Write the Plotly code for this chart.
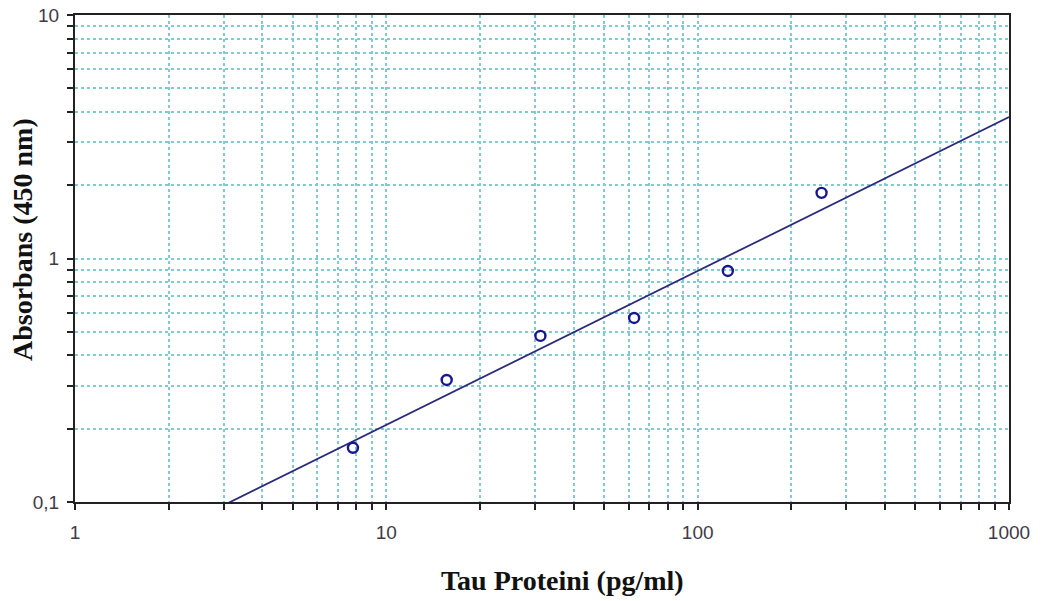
import plotly.graph_objects as go
import numpy as np

# Data
conc = [7.8125, 15.625, 31.25, 62.5, 125, 250]          # Tau Proteini (pg/ml)
absorb = [0.167, 0.317, 0.481, 0.570, 0.889, 1.86]     # Absorbans (450 nm)

# Power fit line y = a * x^b
fit_a = 0.0484
fit_b = 0.632
fit_x = [1, 1000]

x_ticks = [m * 10 ** e for e in range(0, 3) for m in range(1, 10)] + [1000]
x_labels = [str(v) if v in (1, 10, 100, 1000) else "" for v in x_ticks]
y_ticks = [round(m * 10 ** e, 3) for e in range(-1, 1) for m in range(1, 10)] + [10]
y_labels = [{0.1: "0,1", 1: "1", 10: "10"}.get(v, "") for v in y_ticks]

x_title = "<b>Tau Proteini (pg/ml)</b>"
y_title = "<b>Absorbans (450 nm)</b>"

fx = np.logspace(np.log10(fit_x[0]), np.log10(fit_x[1]), 50)
fy = fit_a * fx ** fit_b

fig = go.Figure()
fig.add_trace(go.Scatter(x=fx, y=fy, mode="lines",
                         line=dict(color="#2b2b7c", width=1.8),
                         showlegend=False, hoverinfo="skip"))
fig.add_trace(go.Scatter(x=conc, y=absorb, mode="markers",
                         marker=dict(symbol="circle-open", size=10, color="#17178f",
                                     line=dict(width=2.4, color="#17178f")),
                         showlegend=False))

axis_common = dict(
    type="log", showgrid=True, gridcolor="#80cad3", griddash="dot", gridwidth=1.5,
    showline=True, linecolor="#222222", linewidth=2, mirror=True,
    ticks="outside", ticklen=6, tickwidth=2, tickcolor="#222222",
    zeroline=False, automargin=False,
    tickfont=dict(family="Liberation Sans, Arial, sans-serif", size=19, color="#403a46"),
)

fig.update_xaxes(
    **axis_common, range=[0, 3], tickmode="array", tickvals=x_ticks, ticktext=x_labels,
    ticklabelstandoff=6,
)
fig.update_yaxes(
    **axis_common, range=[-1, 1], tickmode="array", tickvals=y_ticks, ticktext=y_labels,
    ticklabelstandoff=4,
)

title_font = dict(family="Liberation Serif, Times New Roman, serif", size=28, color="#111111")
fig.add_annotation(text=x_title, xref="paper", yref="paper",
                   x=(562 - 75) / (1009 - 75), y=-(580 - 502) / (502 - 15),
                   xanchor="center", yanchor="middle", showarrow=False, font=title_font)
fig.add_annotation(text=y_title, xref="paper", yref="paper",
                   x=-(75 - 22) / (1009 - 75), y=(502 - 240) / (502 - 15),
                   xanchor="center", yanchor="middle", textangle=-90,
                   showarrow=False, font=title_font)

fig.update_layout(
    width=1044, height=601,
    margin=dict(l=75, r=35, t=15, b=99),
    plot_bgcolor="white", paper_bgcolor="white",
)

fig.write_html("out.html")
